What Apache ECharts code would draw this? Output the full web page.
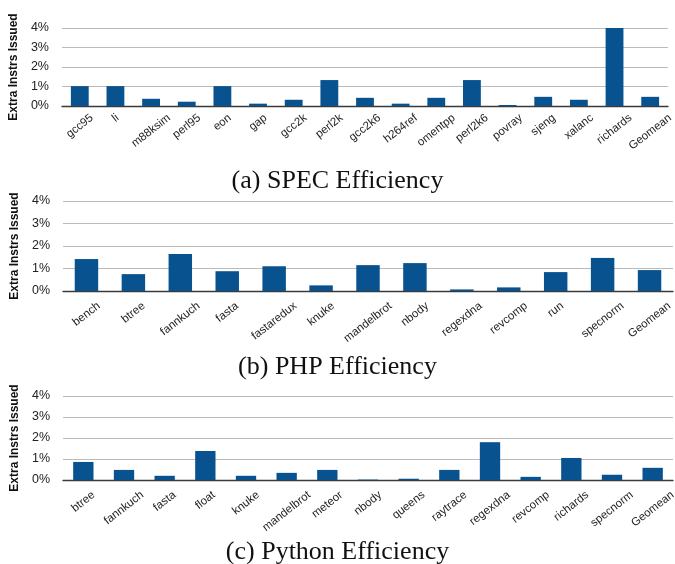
<!DOCTYPE html>
<html>
<head>
<meta charset="utf-8">
<script src="https://cdn.jsdelivr.net/npm/echarts@6/dist/echarts.min.js"></script>
<style>
  html, body { margin: 0; padding: 0; background: #fff; }
  #chart { width: 675px; height: 564px; }
</style>
</head>
<body>
<div id="chart"></div>
<script>
(function() {
  // --- data ---
  var specNames = ['gcc95', 'li', 'm88ksim', 'perl95', 'eon', 'gap', 'gcc2k', 'perl2k', 'gcc2k6',
    'h264ref', 'omentpp', 'perl2k6', 'povray', 'sjeng', 'xalanc', 'richards', 'Geomean'];
  var specValues = [1.02, 1.02, 0.37, 0.22, 1.02, 0.12, 0.32, 1.33, 0.42,
    0.12, 0.42, 1.33, 0.05, 0.47, 0.32, 4.0, 0.47];

  var phpNames = ['bench', 'btree', 'fannkuch', 'fasta', 'fastaredux', 'knuke', 'mandelbrot',
    'nbody', 'regexdna', 'revcomp', 'run', 'specnorm', 'Geomean'];
  var phpValues = [1.42, 0.75, 1.65, 0.88, 1.1, 0.25, 1.15, 1.24, 0.07, 0.16, 0.84, 1.47, 0.93];

  var pyNames = ['btree', 'fannkuch', 'fasta', 'float', 'knuke', 'mandelbrot', 'meteor', 'nbody',
    'queens', 'raytrace', 'regexdna', 'revcomp', 'richards', 'specnorm', 'Geomean'];
  var pyValues = [0.86, 0.48, 0.2, 1.38, 0.2, 0.34, 0.48, 0.02, 0.06, 0.48, 1.8, 0.15, 1.05, 0.25, 0.58];

  var captions = ['(a) SPEC Efficiency', '(b) PHP Efficiency', '(c) Python Efficiency'];
  var yTitle = 'Extra Instrs Issued';

  var barColor = '#08538f';
  var sans = '"Liberation Sans", Arial, sans-serif';
  var serif = '"Liberation Serif", "Times New Roman", serif';

  var chart = echarts.init(document.getElementById('chart'), null, { renderer: 'canvas' });

  var grids = [
    { left: 60, right: 7, top: 28, height: 78 },
    { left: 63, right: 2, top: 201, height: 90 },
    { left: 63, right: 2, top: 396, height: 84 }
  ];
  var nameSets = [specNames, phpNames, pyNames];
  var valueSets = [specValues, phpValues, pyValues];
  var captionTops = [163, 349, 534];
  var labelTopGap = [6, 9, 9];

  var xAxes = [], yAxes = [], series = [], titles = [];
  for (var i = 0; i < 3; i++) {
    xAxes.push({
      type: 'category',
      gridIndex: i,
      data: nameSets[i],
      axisTick: { show: false },
      axisLine: { lineStyle: { color: '#3a3a3a', width: 1.3 } },
      axisLabel: { show: false }
    });
    yAxes.push({
      type: 'value',
      gridIndex: i,
      min: 0,
      max: 4,
      interval: 1,
      name: yTitle,
      nameLocation: 'middle',
      nameRotate: 90,
      nameGap: i === 0 ? 38 : 40,
      nameTextStyle: { fontFamily: sans, fontWeight: 'bold', fontSize: 12, color: '#111' },
      axisLine: { show: false },
      axisTick: { show: false },
      axisLabel: { formatter: '{value}%', color: '#222', fontFamily: sans, fontSize: 12.5, margin: 13 },
      splitLine: { lineStyle: { color: '#bbb', width: 1.2 } }
    });
    series.push({
      type: 'bar',
      xAxisIndex: i,
      yAxisIndex: i,
      data: valueSets[i],
      barCategoryGap: '50%',
      itemStyle: { color: barColor }
    });
    titles.push({
      text: captions[i],
      left: 'center',
      top: captionTops[i],
      textStyle: { fontFamily: serif, fontWeight: 'normal', fontSize: 26, color: '#111' }
    });
  }

  chart.setOption({
    animation: false,
    title: titles,
    grid: grids,
    xAxis: xAxes,
    yAxis: yAxes,
    series: series
  });

  // rotated category labels, centred under each tick (Excel style)
  var fontSize = 11.5;
  var font = fontSize + 'px ' + sans;
  var ctx = document.createElement('canvas').getContext('2d');
  ctx.font = font;
  var angle = 38 * Math.PI / 180;
  var s = Math.sin(angle), c = Math.cos(angle);
  var labels = [];
  for (var g = 0; g < 3; g++) {
    var axisY = chart.convertToPixel({ yAxisIndex: g }, 0);
    nameSets[g].forEach(function(name) {
      var x = chart.convertToPixel({ xAxisIndex: g }, name);
      var w = ctx.measureText(name).width;
      var boxH = w * s + fontSize * c;
      labels.push({
        type: 'text',
        x: x,
        y: axisY + labelTopGap[g] + boxH / 2,
        rotation: angle,
        silent: true,
        style: {
          text: name,
          font: font,
          fill: '#222',
          align: 'center',
          verticalAlign: 'middle'
        }
      });
    });
  }
  chart.setOption({ graphic: labels });

  window.addEventListener('resize', function() { chart.resize(); });
})();
</script>
</body>
</html>
